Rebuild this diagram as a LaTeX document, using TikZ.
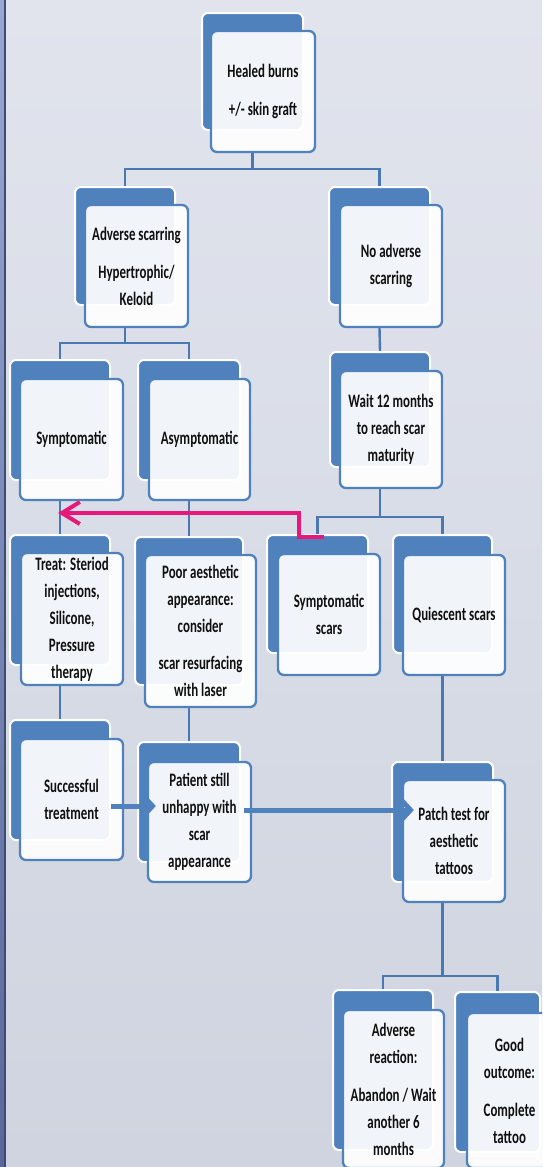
\documentclass[tikz,border=0pt]{standalone}
\usepackage{fontspec}
\newfontfamily\bxfam[FakeStretch=0.68]{Carlito}
\newcommand\bxfont{\bxfam\bfseries\fontsize{19}{27}\selectfont}
\usetikzlibrary{arrows.meta,calc}
\definecolor{bblue}{HTML}{4F81BD}
\definecolor{cblue}{HTML}{4A78B2}
\definecolor{pinkc}{HTML}{E8187A}
\definecolor{txt}{HTML}{101010}
\definecolor{bgtop}{HTML}{E1E4ED}
\definecolor{bgbot}{HTML}{CFD4E0}
\definecolor{striptop}{HTML}{98A7D2}
\definecolor{stripbot}{HTML}{5A679A}
\definecolor{stripline}{HTML}{3E4B72}
\pgfdeclarelayer{bg}
\pgfdeclarelayer{lines}
\pgfsetlayers{bg,lines,main}
\tikzset{
  backbox/.style={draw=white, line width=2pt, fill=bblue, rounded corners=6pt, inner sep=0pt},
  frontbox/.style={draw=bblue, line width=2.3pt, fill=white, fill opacity=0.92, text opacity=1,
    rounded corners=6pt, inner sep=0pt, align=center, font=\bxfont, text=txt},
  rectat/.style n args={4}{at={({(#1+#3)/2},{(#2+#4)/2})}, minimum width={#3-#1}, minimum height={#4-#2}},
  conn/.style={draw=cblue, line width=2.4pt},
  pinkarrow/.style={draw=pinkc, line width=4pt, -{Straight Barb[length=18pt,width=22pt]}},
  bluearrow/.style={draw=bblue, line width=5pt, -{Straight Barb[length=11pt,width=24pt]}},
}
\begin{document}
\begin{tikzpicture}[x=1pt,y=-1pt]
\useasboundingbox (0,0) rectangle (542,1167);
\clip (0,0) rectangle (542,1167);
\begin{pgfonlayer}{bg}
  \shade[top color=bgtop, bottom color=bgbot] (0,0) rectangle (542,1167);
  \shade[top color=striptop, bottom color=stripbot] (0,0) rectangle (4,1167);
  \fill[stripline] (4,0) rectangle (6,1167);
\end{pgfonlayer}

% level 0
\node[backbox, rectat={202}{13}{303}{130}] (topb) {};
\node[frontbox, rectat={211}{31}{315}{152}] (top) {Healed burns\\[11pt]+/- skin graft};
% level 1
\node[backbox, rectat={75}{187}{175}{305}] (advb) {};
\node[frontbox, rectat={85}{205}{188}{327}] (adv) {Adverse scarring\\[11pt]Hypertrophic/\\Keloid};
\node[backbox, rectat={329}{187}{430}{305}] (noadvb) {};
\node[frontbox, rectat={340}{205}{442}{327}] (noadv) {No adverse\\scarring};
% level 2
\node[backbox, rectat={10}{360}{110}{480}] (symb) {};
\node[frontbox, rectat={20}{379}{123}{500}] (sym) {Symptomatic};
\node[backbox, rectat={138}{360}{240}{480}] (asymb) {};
\node[frontbox, rectat={149}{379}{250}{500}] (asym) {Asymptomatic};
\node[backbox, rectat={330}{352}{430}{467}] (waitb) {};
\node[frontbox, rectat={340}{371}{442}{488}] (wait) {Wait 12 months\\to reach scar\\maturity};
% level 3
\node[backbox, rectat={10}{535}{110}{665}] (treatb) {};
\node[frontbox, rectat={21}{553}{123}{685}] (treat) {Treat: Steriod\\injections,\\Silicone,\\Pressure\\therapy};
\node[backbox, rectat={135}{537}{243}{685}] (poorb) {};
\node[frontbox, rectat={145}{555}{256}{707}] (poor) {Poor aesthetic\\appearance:\\consider\\[10pt]scar resurfacing\\with laser};
\node[backbox, rectat={267}{535}{368}{653}] (ssb) {};
\node[frontbox, rectat={278}{554}{380}{675}] (ss) {Symptomatic\\scars};
\node[backbox, rectat={393}{535}{492}{653}] (qb) {};
\node[frontbox, rectat={403}{555}{505}{675}] (q) {Quiescent scars};
% level 4
\node[backbox, rectat={10}{720}{110}{840}] (succb) {};
\node[frontbox, rectat={20}{739}{123}{860}] (succ) {Successful\\treatment};
\node[backbox, rectat={138}{742}{240}{862}] (patb) {};
\node[frontbox, rectat={148}{762}{251}{882}] (pat) {Patient still\\unhappy with\\scar\\appearance};
\node[backbox, rectat={392}{762}{493}{882}] (patchb) {};
\node[frontbox, rectat={403}{780}{505}{902}] (patch) {Patch test for\\aesthetic\\tattoos};
% level 5
\node[backbox, rectat={333}{990}{433}{1150}] (advrb) {};
\node[frontbox, rectat={343}{1010}{444}{1168}] (advr) {Adverse\\reaction:\\[11pt]Abandon / Wait\\another 6\\months};
\node[backbox, rectat={455}{992}{540}{1152}] (goodb) {};
\node[frontbox, rectat={467}{1013}{552}{1168}] (good) {Good\\outcome:\\[11pt]Complete\\tattoo};

\begin{pgfonlayer}{lines}
  \draw[conn] (topb.south |- top.south) -- ++(0,16) -| (advb.north);
  \draw[conn] (topb.south |- top.south) -- ++(0,16) -| (noadvb.north);
  \draw[conn] (advb.south |- adv.south) -- ++(0,15) -| (symb.north);
  \draw[conn] (advb.south |- adv.south) -- ++(0,15) -| (asymb.north);
  \draw[conn] (noadvb.south |- noadv.south) -- (waitb.north);
  \draw[conn] (symb.south |- sym.south) -- (treatb.north);
  \draw[conn] (asymb.south |- asym.south) -- (poorb.north);
  \draw[conn] (waitb.south |- wait.south) -- ++(0,28) -| (ssb.north);
  \draw[conn] (waitb.south |- wait.south) -- ++(0,28) -| (qb.north);
  \draw[conn] (treatb.south |- treat.south) -- (succb.north);
  \draw[conn] (poorb.south |- poor.south) -- (patb.north);
  \draw[conn] (qb.south |- q.south) -- (patchb.north);
  \draw[conn] (patchb.south |- patch.south) -- ++(0,73) -| (advrb.north);
  \draw[conn] (patchb.south |- patch.south) -- ++(0,73) -| (goodb.north);
\end{pgfonlayer}

% arrows on top
\coordinate (pinkS) at (324,537);
\coordinate (pinkE) at (58,513);
\draw[pinkarrow, line join=miter] (pinkS) -- (299,537) -- (299,513) -- (pinkE);
\draw[bluearrow] ($(succ.east)+(-13,6.5)$) -- ($(pat.west |- succ.east)+(9,6.5)$);
\draw[bluearrow] ($(pat.east)+(-8,-12)$) -- ($(patch.west |- pat.east)+(12,-12)$);
\end{tikzpicture}
\end{document}
